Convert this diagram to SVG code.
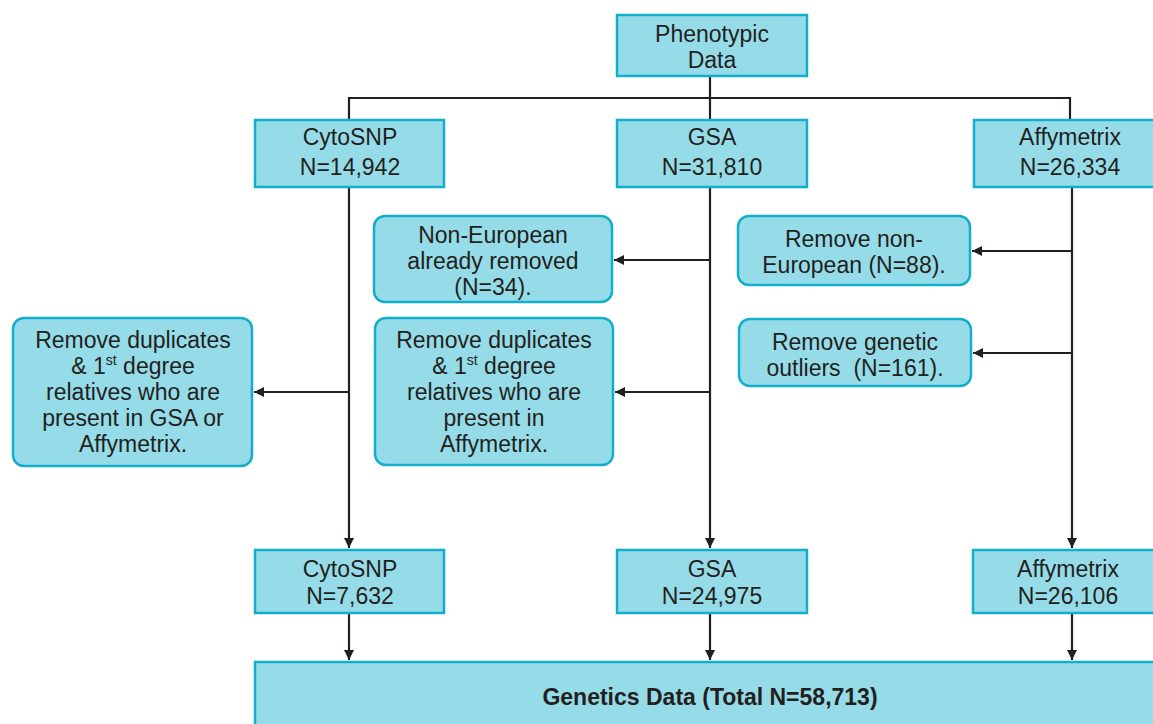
<svg xmlns="http://www.w3.org/2000/svg" width="1153" height="724" viewBox="0 0 1153 724">
<style>
.box{fill:#95dce8;stroke:#12aecb;stroke-width:2.5}
.t{font-family:"Liberation Sans",Arial,sans-serif;font-size:23px;fill:#231f20;text-anchor:middle}
.b{font-weight:bold;font-size:23px}
.ln{stroke:#231f20;stroke-width:2.2;fill:none}
.sup{font-size:14px}
</style>
<defs>
<marker id="ah" viewBox="0 0 10 10" refX="10" refY="5" markerWidth="11" markerHeight="10" markerUnits="userSpaceOnUse" orient="auto">
<path d="M0,0 L10,5 L0,10 z" fill="#231f20"/>
</marker>
</defs>
<rect width="1153" height="724" fill="#ffffff"/>
<g id="connectors">
<line class="ln" x1="710" y1="76" x2="710" y2="119"/>
<polyline class="ln" points="349,119 349,98 1070,98 1070,119"/>
<line class="ln" x1="349" y1="187" x2="349" y2="548" marker-end="url(#ah)"/>
<line class="ln" x1="710" y1="187" x2="710" y2="548" marker-end="url(#ah)"/>
<line class="ln" x1="1072" y1="187" x2="1072" y2="548" marker-end="url(#ah)"/>
<line class="ln" x1="349" y1="392" x2="254" y2="392" marker-end="url(#ah)"/>
<line class="ln" x1="710" y1="260" x2="614" y2="260" marker-end="url(#ah)"/>
<line class="ln" x1="710" y1="392" x2="615" y2="392" marker-end="url(#ah)"/>
<line class="ln" x1="1072" y1="251" x2="972" y2="251" marker-end="url(#ah)"/>
<line class="ln" x1="1072" y1="353" x2="973" y2="353" marker-end="url(#ah)"/>
<line class="ln" x1="349" y1="613" x2="349" y2="660" marker-end="url(#ah)"/>
<line class="ln" x1="710" y1="613" x2="710" y2="660" marker-end="url(#ah)"/>
<line class="ln" x1="1072" y1="613" x2="1072" y2="660" marker-end="url(#ah)"/>
</g>
<g id="phenotypic">
<rect class="box" x="617" y="15" width="190" height="61"/>
<text class="t" x="712" y="42">Phenotypic</text>
<text class="t" x="712" y="68">Data</text>
</g>
<g id="cytosnp-top">
<rect class="box" x="255" y="120" width="189" height="67"/>
<text class="t" x="350" y="145">CytoSNP</text>
<text class="t" x="350" y="175">N=14,942</text>
</g>
<g id="gsa-top">
<rect class="box" x="617" y="120" width="190" height="67"/>
<text class="t" x="712" y="145">GSA</text>
<text class="t" x="712" y="175">N=31,810</text>
</g>
<g id="affy-top">
<rect class="box" x="974" y="120" width="190" height="67"/>
<text class="t" x="1070" y="145">Affymetrix</text>
<text class="t" x="1070" y="175">N=26,334</text>
</g>
<g id="nonEuro-gsa">
<rect class="box" x="374" y="216" width="238" height="86" rx="11"/>
<text class="t" x="493" y="243">Non-European</text>
<text class="t" x="493" y="269">already removed</text>
<text class="t" x="493" y="295">(N=34).</text>
</g>
<g id="dup-gsa">
<rect class="box" x="375" y="318" width="238" height="147" rx="11"/>
<text class="t" x="494" y="348">Remove duplicates</text>
<text class="t" x="494" y="374">&amp; 1<tspan class="sup" dy="-9">st</tspan><tspan dy="9"> degree</tspan></text>
<text class="t" x="494" y="400">relatives who are</text>
<text class="t" x="494" y="426">present in</text>
<text class="t" x="494" y="452">Affymetrix.</text>
</g>
<g id="dup-cyto">
<rect class="box" x="13" y="318" width="239" height="148" rx="11"/>
<text class="t" x="133" y="348">Remove duplicates</text>
<text class="t" x="133" y="374">&amp; 1<tspan class="sup" dy="-9">st</tspan><tspan dy="9"> degree</tspan></text>
<text class="t" x="133" y="400">relatives who are</text>
<text class="t" x="133" y="426">present in GSA or</text>
<text class="t" x="133" y="452">Affymetrix.</text>
</g>
<g id="nonEuro-affy">
<rect class="box" x="738" y="216" width="232" height="69" rx="11"/>
<text class="t" x="854" y="247">Remove non-</text>
<text class="t" x="854" y="273">European (N=88).</text>
</g>
<g id="outliers-affy">
<rect class="box" x="739" y="319" width="232" height="67" rx="11"/>
<text class="t" x="855" y="350">Remove genetic</text>
<text class="t" x="855" y="376" xml:space="preserve">outliers  (N=161).</text>
</g>
<g id="cytosnp-bottom">
<rect class="box" x="255" y="550" width="189" height="63"/>
<text class="t" x="350" y="577">CytoSNP</text>
<text class="t" x="350" y="604">N=7,632</text>
</g>
<g id="gsa-bottom">
<rect class="box" x="617" y="550" width="190" height="63"/>
<text class="t" x="712" y="577">GSA</text>
<text class="t" x="712" y="604">N=24,975</text>
</g>
<g id="affy-bottom">
<rect class="box" x="973" y="550" width="190" height="63"/>
<text class="t" x="1068" y="577">Affymetrix</text>
<text class="t" x="1068" y="604">N=26,106</text>
</g>
<g id="genetics">
<rect class="box" x="255" y="662" width="910" height="70"/>
<text class="t b" x="710" y="705">Genetics Data (Total N=58,713)</text>
</g>
</svg>
